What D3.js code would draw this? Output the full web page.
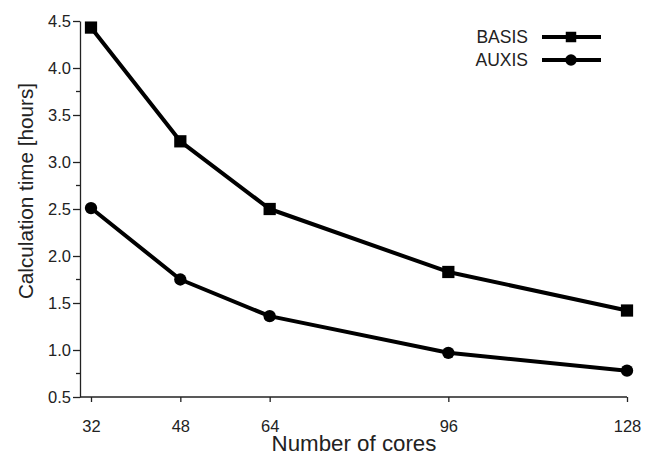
<!DOCTYPE html>
<html lang="en">
<head>
<meta charset="UTF-8">
<script src="https://d3js.org/d3.v7.min.js"></script>
<style>
body { margin: 0; background: #fff; }
svg text { font-family: "Liberation Sans", Arial, sans-serif; fill: #222; }
</style>
</head>
<body>
<svg id="chart" width="646" height="461"></svg>
<script>
var cores = [32, 48, 64, 96, 128]
var basis = [4.43, 3.22, 2.50, 1.83, 1.42]
var auxis = [2.51, 1.75, 1.36, 0.97, 0.78]
var yTicks = [0.5, 1.0, 1.5, 2.0, 2.5, 3.0, 3.5, 4.0, 4.5]

var svg = d3.select("#chart")

var x = d3.scaleLinear().domain([32, 128]).range([91, 627])
var y = d3.scaleLinear().domain([0.5, 4.5]).range([397, 21])

// axes
var yAxis = d3.axisLeft(y).tickValues(yTicks).tickFormat(d3.format(".1f")).tickSize(7).tickSizeOuter(0)
var gy = svg.append("g").attr("transform", "translate(80,0)").call(yAxis)
gy.select(".domain").attr("stroke", "#222").attr("stroke-width", 1.3)
gy.selectAll(".tick line").attr("stroke", "#222").attr("stroke-width", 1.3)
gy.selectAll(".tick text").attr("font-size", 16.5).attr("x", -9)

// minor y ticks
var minor = d3.range(0, 4).map(i => 0.75 + i)
gy.selectAll(".minor").data(minor).enter().append("line")
    .attr("x1", -4).attr("x2", 0)
    .attr("y1", d => y(d)).attr("y2", d => y(d))
    .attr("stroke", "#222").attr("stroke-width", 1.3)

var xAxis = d3.axisBottom(x).tickValues(cores).tickFormat(d3.format("d")).tickSize(5).tickSizeOuter(0)
var gx = svg.append("g").attr("transform", "translate(0,397)").call(xAxis)
gx.select(".domain").attr("d", "M80,0H627").attr("stroke", "#222").attr("stroke-width", 1.3)
gx.selectAll(".tick line").attr("stroke", "#222").attr("stroke-width", 1.3)
gx.selectAll(".tick text").attr("font-size", 16.5).attr("y", 23)

svg.append("text")
    .attr("x", 354).attr("y", 451)
    .attr("text-anchor", "middle")
    .attr("font-size", 22.3)
    .text("Number of cores")

svg.append("text")
    .attr("transform", "translate(33,191) rotate(-90)")
    .attr("text-anchor", "middle")
    .attr("font-size", 20.7)
    .text("Calculation time [hours]")

var line = d3.line().x((d, i) => x(cores[i])).y(d => y(d))

function series(vals, shape) {
    svg.append("path")
        .datum(vals)
        .attr("d", line)
        .attr("fill", "none")
        .attr("stroke", "#000")
        .attr("stroke-width", 4)
        .attr("stroke-linejoin", "round")
    var sym = d3.symbol().type(shape === "square" ? d3.symbolSquare : d3.symbolCircle)
        .size(shape === "square" ? 150 : 120)
    svg.selectAll(".m-" + shape).data(vals).enter().append("path")
        .attr("class", "m-" + shape)
        .attr("d", sym)
        .attr("transform", (d, i) => `translate(${x(cores[i])},${y(d)})`)
        .attr("fill", "#000")
}
series(basis, "square")
series(auxis, "circle")

// legend
var legend = [
    {name: "BASIS", shape: d3.symbolSquare, size: 110, y: 37},
    {name: "AUXIS", shape: d3.symbolCircle, size: 105, y: 60}
]
legend.forEach(l => {
    svg.append("text").attr("x", 528).attr("y", l.y + 6)
        .attr("text-anchor", "end").attr("font-size", 17.5).text(l.name)
    svg.append("line").attr("x1", 542).attr("x2", 601).attr("y1", l.y).attr("y2", l.y)
        .attr("stroke", "#000").attr("stroke-width", 4)
    svg.append("path").attr("d", d3.symbol().type(l.shape).size(l.size))
        .attr("transform", `translate(571,${l.y})`).attr("fill", "#000")
})
</script>
</body>
</html>
